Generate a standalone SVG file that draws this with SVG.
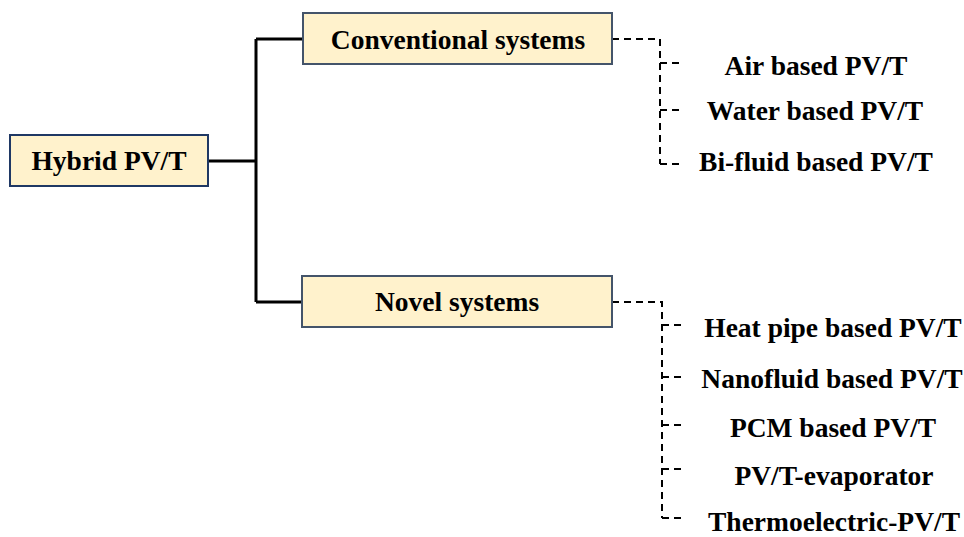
<svg xmlns="http://www.w3.org/2000/svg" width="964" height="537" viewBox="0 0 964 537">
<style>
.box{fill:#FFF2CC;stroke:#44546A;stroke-width:2}
.t{font-family:"Liberation Serif","Times New Roman",serif;font-weight:bold;font-size:27.5px;fill:#000;text-anchor:middle}
.solid{fill:none;stroke:#000;stroke-width:3}
.dash{fill:none;stroke:#000;stroke-width:2;stroke-dasharray:7 5}
</style>
<rect width="964" height="537" fill="#fff"/>
<g id="connectors">
<path class="solid" d="M208 161 H256 M256 39 V302 M256 39 H303 M256 302 H302"/>
<path class="dash" d="M612 39 H660 V164 M660 63 H682 M660 110 H682 M660 164 H682"/>
<path class="dash" d="M612 302 H662 V518 M662 325 H684 M662 377 H684 M662 425 H684 M662 469 H684 M662 518 H684"/>
</g>
<g id="hybrid"><rect class="box" x="10" y="135" width="198" height="51" style="stroke:#1F3864"/><text class="t" x="109" y="170">Hybrid PV/T</text></g>
<g id="conventional"><rect class="box" x="303" y="13" width="309" height="51"/><text class="t" x="458" y="49">Conventional systems</text></g>
<g id="novel"><rect class="box" x="302" y="276" width="310" height="51"/><text class="t" x="457" y="311">Novel systems</text></g>
<g id="air"><text class="t" x="816" y="75">Air based PV/T</text></g>
<g id="water"><text class="t" x="815" y="120">Water based PV/T</text></g>
<g id="bifluid"><text class="t" x="816" y="171">Bi-fluid based PV/T</text></g>
<g id="heatpipe"><text class="t" x="833" y="337">Heat pipe based PV/T</text></g>
<g id="nanofluid"><text class="t" x="832" y="388">Nanofluid based PV/T</text></g>
<g id="pcm"><text class="t" x="833" y="437">PCM based PV/T</text></g>
<g id="evaporator"><text class="t" x="834" y="485">PV/T-evaporator</text></g>
<g id="thermo"><text class="t" x="834" y="531">Thermoelectric-PV/T</text></g>
</svg>
